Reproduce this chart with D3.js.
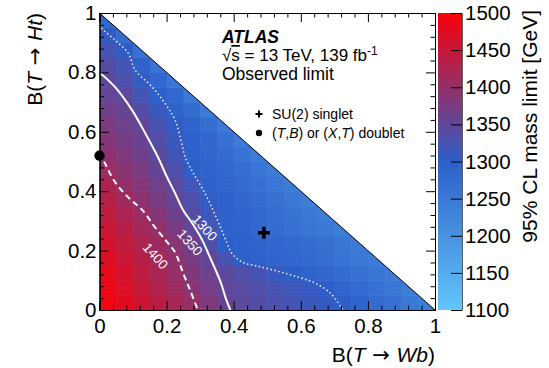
<!DOCTYPE html>
<html>
<head>
<meta charset="utf-8">
<script src="https://cdn.jsdelivr.net/npm/d3@7"></script>
<style>
  body { margin: 0; background: #fff; }
  svg { display: block; font-family: "Liberation Sans", Arial, sans-serif; }
  .arrow { font-family: "DejaVu Sans", sans-serif; }
</style>
</head>
<body>
<svg id="chart" width="549" height="368"></svg>
<script>
// bin lower edges (same for both axes), width 0.05
const binLo = [0, 0.05, 0.1, 0.15, 0.2, 0.25, 0.3, 0.35, 0.4, 0.45, 0.5, 0.55, 0.6, 0.65, 0.7, 0.75, 0.8, 0.85, 0.9, 0.95];
const binW = 0.05;

// observed mass limit [GeV], one row per B(T->Ht) bin (bottom up), columns along B(T->Wb)
const massLimit = [
  [1492,1474,1456,1438,1420,1403,1381,1357,1345,1337,1330,1323,1315,1308,1301,1289,1277,1264,1252,1240],
  [1486,1467,1448,1429,1410,1390,1370,1350,1342,1333,1325,1317,1308,1300,1288,1277,1265,1254,1242],
  [1480,1460,1441,1421,1402,1382,1362,1346,1334,1323,1311,1300,1291,1282,1272,1263,1254,1245],
  [1471,1452,1434,1416,1398,1375,1352,1324,1298,1294,1289,1285,1278,1270,1260,1252,1244],
  [1462,1444,1427,1410,1389,1365,1336,1300,1295,1290,1285,1280,1274,1266,1256,1246],
  [1452,1434,1416,1399,1376,1353,1324,1297,1290,1283,1275,1267,1258,1249,1240],
  [1442,1424,1406,1386,1364,1341,1315,1296,1288,1280,1271,1262,1251,1240],
  [1432,1412,1392,1373,1355,1331,1305,1294,1285,1275,1264,1252,1241],
  [1422,1400,1383,1365,1345,1319,1297,1288,1278,1267,1255,1243],
  [1408,1389,1373,1356,1331,1300,1291,1281,1270,1257,1243],
  [1395,1380,1364,1347,1318,1297,1286,1274,1260,1245],
  [1385,1371,1357,1337,1312,1296,1282,1265,1245],
  [1375,1362,1350,1327,1305,1288,1270,1248],
  [1365,1356,1337,1312,1293,1272,1248],
  [1355,1345,1321,1297,1280,1250],
  [1348,1330,1307,1285,1255],
  [1338,1320,1294,1260],
  [1322,1303,1265],
  [1308,1275],
  [1285]
];

// contour lines [Wb, Ht]
const contour1300 = [[0,0.962],[0.007,0.948],[0.046,0.909],[0.086,0.864],[0.106,0.808],[0.156,0.752],[0.195,0.696],[0.225,0.640],[0.245,0.561],[0.255,0.516],[0.28,0.46],[0.314,0.394],[0.338,0.337],[0.36,0.28],[0.38,0.226],[0.395,0.19],[0.428,0.16],[0.47,0.148],[0.54,0.128],[0.60,0.108],[0.64,0.092],[0.687,0.058],[0.726,0]];
const contour1350 = [[0,0.80],[0.046,0.751],[0.097,0.673],[0.136,0.596],[0.174,0.515],[0.201,0.448],[0.225,0.394],[0.249,0.337],[0.276,0.293],[0.306,0.236],[0.329,0.178],[0.346,0.135],[0.362,0.091],[0.378,0.034],[0.39,0]];
const contour1400 = [[0,0.53],[0.018,0.49],[0.046,0.431],[0.085,0.380],[0.127,0.337],[0.165,0.279],[0.201,0.229],[0.225,0.195],[0.249,0.125],[0.270,0.067],[0.293,0]];
const contourLabels = [
  { text: "1300", wb: 0.314, ht: 0.277 },
  { text: "1350", wb: 0.270, ht: 0.227 },
  { text: "1400", wb: 0.167, ht: 0.182 }
];

// benchmark points
const singlet = [0.49, 0.26];
const doublet = [0, 0.52];

const axisTicks = [0, 0.2, 0.4, 0.6, 0.8, 1];
const axisTickLabels = ["0", "0.2", "0.4", "0.6", "0.8", "1"];
const axisMinor = [0.04,0.08,0.12,0.16,0.24,0.28,0.32,0.36,0.44,0.48,0.52,0.56,0.64,0.68,0.72,0.76,0.84,0.88,0.92,0.96];
const zTicks = [1100, 1150, 1200, 1250, 1300, 1350, 1400, 1450, 1500];
const zStops = [1100, 1300, 1500];
const zColors = ["#62c6fb", "#2d5fca", "#fa0008"];

const svg = d3.select("#chart");
const x = d3.scaleLinear([0, 1], [99.5, 435]);
const y = d3.scaleLinear([0, 1], [310, 13]);
const color = d3.scaleLinear(zStops, zColors).clamp(true);

// triangle clip
svg.append("defs").append("clipPath").attr("id", "tri")
  .append("path")
  .attr("d", `M${x(0)},${y(0)}L${x(1)},${y(0)}L${x(0)},${y(1)}Z`);

const cells = [];
massLimit.forEach((row, j) => row.forEach((v, i) => cells.push({ i, j, v })));

const heat = svg.append("g").attr("clip-path", "url(#tri)");
heat.selectAll("rect").data(cells).join("rect")
  .attr("x", d => x(binLo[d.i]))
  .attr("y", d => y(binLo[d.j] + binW))
  .attr("width", d => x(binLo[d.i] + binW) - x(binLo[d.i]) + 0.6)
  .attr("height", d => y(binLo[d.j]) - y(binLo[d.j] + binW) + 0.6)
  .attr("fill", d => color(d.v));

// contours
const line = d3.line().x(d => x(d[0])).y(d => y(d[1])).curve(d3.curveCatmullRom);
const cg = svg.append("g").attr("clip-path", "url(#tri)").attr("fill", "none").attr("stroke", "#fff");
cg.append("path").datum(contour1300).attr("d", line).attr("stroke-width", 1.5).attr("stroke-dasharray", "1.5,2.5").attr("opacity", 0.9);
cg.append("path").datum(contour1350).attr("d", line).attr("stroke-width", 2);
cg.append("path").datum(contour1400).attr("d", line).attr("stroke-width", 2).attr("stroke-dasharray", "6,4");

svg.append("g").selectAll("text").data(contourLabels).join("text")
  .attr("transform", d => `translate(${x(d.wb)},${y(d.ht)}) rotate(48)`)
  .attr("text-anchor", "middle").attr("dy", "0.35em")
  .attr("fill", "#fff").attr("font-size", 13.5)
  .text(d => d.text);

// diagonal
svg.append("line")
  .attr("x1", x(0)).attr("y1", y(1)).attr("x2", x(1)).attr("y2", y(0))
  .attr("stroke", "#000").attr("stroke-width", 1);

// axes (ROOT style, ticks inside on all four sides)
function styleAxis(g) {
  g.select(".domain").attr("stroke", "#000");
  g.selectAll(".tick line").attr("stroke", "#000");
  g.selectAll("text").attr("font-family", "Liberation Sans, Arial, sans-serif").attr("font-size", 20.5).attr("fill", "#000");
}
svg.append("g").attr("transform", `translate(0,${y(0)})`)
  .call(d3.axisBottom(x).tickValues(axisTicks).tickSize(-9).tickPadding(8)
    .tickFormat((d, i) => axisTickLabels[i]))
  .call(styleAxis);
svg.append("g").attr("transform", `translate(0,${y(0)})`)
  .call(d3.axisBottom(x).tickValues(axisMinor).tickSize(-4.5).tickFormat(""))
  .call(styleAxis);
svg.append("g").attr("transform", `translate(0,${y(1)})`)
  .call(d3.axisTop(x).tickValues(axisTicks).tickSize(-9).tickFormat(""))
  .call(styleAxis);
svg.append("g").attr("transform", `translate(0,${y(1)})`)
  .call(d3.axisTop(x).tickValues(axisMinor).tickSize(-4.5).tickFormat(""))
  .call(styleAxis);
svg.append("g").attr("transform", `translate(${x(0)},0)`)
  .call(d3.axisLeft(y).tickValues(axisTicks).tickSize(-9).tickPadding(3)
    .tickFormat((d, i) => axisTickLabels[i]))
  .call(styleAxis);
svg.append("g").attr("transform", `translate(${x(0)},0)`)
  .call(d3.axisLeft(y).tickValues(axisMinor).tickSize(-4.5).tickFormat(""))
  .call(styleAxis);
svg.append("g").attr("transform", `translate(${x(1)},0)`)
  .call(d3.axisRight(y).tickValues(axisTicks).tickSize(-9).tickFormat(""))
  .call(styleAxis);
svg.append("g").attr("transform", `translate(${x(1)},0)`)
  .call(d3.axisRight(y).tickValues(axisMinor).tickSize(-4.5).tickFormat(""))
  .call(styleAxis);

// benchmark markers
svg.append("circle").attr("cx", x(doublet[0])).attr("cy", y(doublet[1])).attr("r", 5.2).attr("fill", "#000");
svg.append("path")
  .attr("transform", `translate(${x(singlet[0])},${y(singlet[1])})`)
  .attr("d", "M-6,0H6M0,-6V6").attr("stroke", "#000").attr("stroke-width", 3.5);

// colour bar
const cz = d3.scaleLinear([1100, 1500], [y(0), y(1)]);
const grad = svg.select("defs").append("linearGradient").attr("id", "zgrad")
  .attr("x1", 0).attr("y1", 1).attr("x2", 0).attr("y2", 0);
grad.selectAll("stop").data(zStops).join("stop")
  .attr("offset", d => (d - 1100) / 400)
  .attr("stop-color", d => color(d));
svg.append("rect").attr("x", 438).attr("y", cz(1500)).attr("width", 24).attr("height", cz(1100) - cz(1500))
  .attr("fill", "url(#zgrad)");
svg.append("g").attr("transform", "translate(462,0)")
  .call(d3.axisRight(cz).tickValues(zTicks).tickSize(-11).tickSizeOuter(0).tickPadding(3).tickFormat(d3.format("d")))
  .call(styleAxis)
  .call(g => g.select(".domain").attr("stroke", "#333").attr("stroke-width", 0.8));

// axis titles
const xt = svg.append("text").attr("x", x(1)).attr("y", 362).attr("text-anchor", "end").attr("font-size", 21);
xt.append("tspan").text("B(");
xt.append("tspan").attr("font-style", "italic").text("T");
xt.append("tspan").attr("class", "arrow").text(" \u2192 ");
xt.append("tspan").attr("font-style", "italic").text("Wb");
xt.append("tspan").text(")");

const yt = svg.append("text").attr("transform", `translate(42,${y(1)}) rotate(-90)`).attr("text-anchor", "end").attr("font-size", 21);
yt.append("tspan").text("B(");
yt.append("tspan").attr("font-style", "italic").text("T");
yt.append("tspan").attr("class", "arrow").text(" \u2192 ");
yt.append("tspan").attr("font-style", "italic").text("Ht");
yt.append("tspan").text(")");

svg.append("text").attr("transform", "translate(537,10) rotate(-90)").attr("text-anchor", "end")
  .attr("font-size", 21).text("95% CL mass limit [GeV]");

// ATLAS label
svg.append("text").attr("x", 222).attr("y", 43).attr("font-size", 17.5)
  .attr("font-weight", "bold").attr("font-style", "italic").text("ATLAS");
const en = svg.append("text").attr("x", 222).attr("y", 61).attr("font-size", 17);
en.append("tspan").text("\u221A");
en.append("tspan").attr("text-decoration", "overline").text("s");
en.append("tspan").text(" = 13 TeV, 139 fb");
en.append("tspan").attr("dy", -6).attr("font-size", 12).text("-1");
svg.append("text").attr("x", 222).attr("y", 80).attr("font-size", 17.5).text("Observed limit");

// legend
svg.append("path").attr("transform", "translate(259,114)")
  .attr("d", "M-3.5,0H3.5M0,-3.5V3.5").attr("stroke", "#000").attr("stroke-width", 2);
svg.append("text").attr("x", 272).attr("y", 119).attr("font-size", 14).text("SU(2) singlet");
svg.append("circle").attr("cx", 259).attr("cy", 133).attr("r", 3.2).attr("fill", "#000");
const lg = svg.append("text").attr("x", 272).attr("y", 138).attr("font-size", 14);
lg.append("tspan").text("(");
lg.append("tspan").attr("font-style", "italic").text("T");
lg.append("tspan").text(",");
lg.append("tspan").attr("font-style", "italic").text("B");
lg.append("tspan").text(") or (");
lg.append("tspan").attr("font-style", "italic").text("X");
lg.append("tspan").text(",");
lg.append("tspan").attr("font-style", "italic").text("T");
lg.append("tspan").text(") doublet");
</script>
</body>
</html>
